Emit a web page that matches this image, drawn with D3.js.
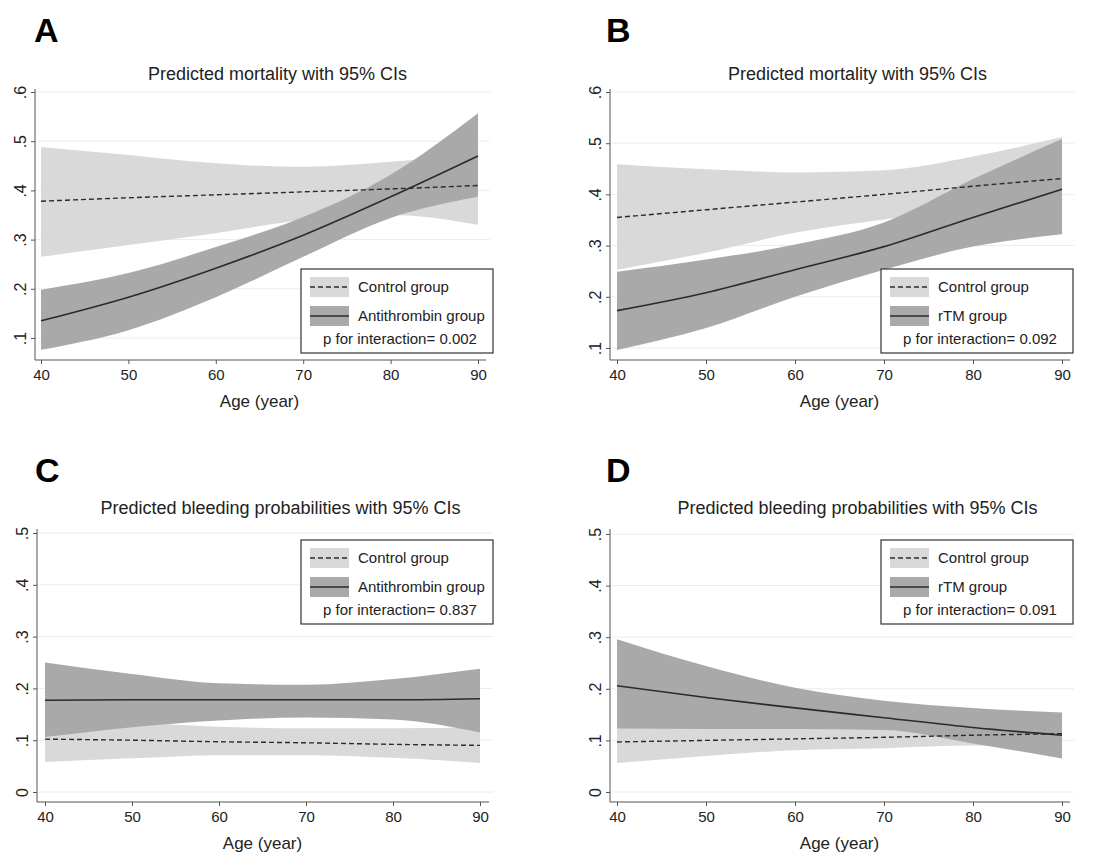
<!DOCTYPE html>
<html>
<head>
<meta charset="utf-8">
<script src="https://cdn.jsdelivr.net/npm/d3@7"></script>
<style>
  body { margin: 0; background: #fff; }
  svg { font-family: "Liberation Sans", Arial, sans-serif; }
</style>
</head>
<body>
<div id="chart"></div>
<script>
// x values and tick labels
const ages = [40, 50, 60, 70, 80, 90];
const xTicks = [40, 50, 60, 70, 80, 90];
const yTicksMort = [0.1, 0.2, 0.3, 0.4, 0.5, 0.6];
const yTicksBleed = [0, 0.1, 0.2, 0.3, 0.4, 0.5];

const titleMort = "Predicted mortality with 95% CIs";
const titleBleed = "Predicted bleeding probabilities with 95% CIs";
const ctrlName = "Control group";

// A: mortality, antithrombin
const aCtrl   = [0.378, 0.385, 0.391, 0.397, 0.403, 0.410];
const aCtrlHi = [0.488, 0.472, 0.455, 0.448, 0.458, 0.475];
const aCtrlLo = [0.265, 0.289, 0.313, 0.340, 0.350, 0.330];
const aTrt    = [0.135, 0.183, 0.242, 0.309, 0.387, 0.470];
const aTrtHi  = [0.198, 0.232, 0.285, 0.346, 0.432, 0.557];
const aTrtLo  = [0.076, 0.116, 0.183, 0.265, 0.344, 0.387];

// B: mortality, rTM
const bCtrl   = [0.355, 0.370, 0.385, 0.400, 0.416, 0.431];
const bCtrlHi = [0.459, 0.449, 0.443, 0.447, 0.474, 0.512];
const bCtrlLo = [0.253, 0.286, 0.325, 0.351, 0.370, 0.375];
const bTrt    = [0.173, 0.208, 0.253, 0.298, 0.355, 0.410];
const bTrtHi  = [0.249, 0.273, 0.302, 0.345, 0.430, 0.508];
const bTrtLo  = [0.096, 0.139, 0.200, 0.253, 0.298, 0.322];

// C: bleeding, antithrombin
const cCtrl   = [0.102, 0.100, 0.097, 0.095, 0.092, 0.090];
const cCtrlHi = [0.150, 0.135, 0.126, 0.123, 0.123, 0.125];
const cCtrlLo = [0.058, 0.065, 0.071, 0.071, 0.066, 0.056];
const cTrt    = [0.177, 0.178, 0.178, 0.178, 0.178, 0.180];
const cTrtHi  = [0.250, 0.228, 0.210, 0.207, 0.218, 0.238];
const cTrtLo  = [0.106, 0.125, 0.138, 0.144, 0.140, 0.115];

// D: bleeding, rTM
const dCtrl   = [0.097, 0.100, 0.103, 0.106, 0.110, 0.113];
const dCtrlHi = [0.124, 0.124, 0.124, 0.124, 0.126, 0.130];
const dCtrlLo = [0.056, 0.070, 0.081, 0.085, 0.090, 0.085];
const dTrt    = [0.206, 0.183, 0.163, 0.144, 0.125, 0.110];
const dTrtHi  = [0.296, 0.244, 0.202, 0.177, 0.163, 0.154];
const dTrtLo  = [0.123, 0.122, 0.122, 0.120, 0.094, 0.065];

const panels = [
  { letter: "A", title: titleMort, trtName: "Antithrombin group", p: "0.002",
    ctrl: aCtrl, ctrlHi: aCtrlHi, ctrlLo: aCtrlLo, trt: aTrt, trtHi: aTrtHi, trtLo: aTrtLo,
    yTicks: yTicksMort, yDomain: [0.1, 0.6], yRange: [338, 92],
    axisX: 35, axisY: 360, top: 89, xRange: [41, 478], right: 486,
    letterX: 34, letterY: 42, titleY: 80, legX: 301, legY: 269 },
  { letter: "B", title: titleMort, trtName: "rTM group", p: "0.092",
    ctrl: bCtrl, ctrlHi: bCtrlHi, ctrlLo: bCtrlLo, trt: bTrt, trtHi: bTrtHi, trtLo: bTrtLo,
    yTicks: yTicksMort, yDomain: [0.1, 0.6], yRange: [348, 92],
    axisX: 610, axisY: 360, top: 89, xRange: [617, 1062], right: 1070,
    letterX: 606, letterY: 42, titleY: 80, legX: 881, legY: 269 },
  { letter: "C", title: titleBleed, trtName: "Antithrombin group", p: "0.837",
    ctrl: cCtrl, ctrlHi: cCtrlHi, ctrlLo: cCtrlLo, trt: cTrt, trtHi: cTrtHi, trtLo: cTrtLo,
    yTicks: yTicksBleed, yDomain: [0, 0.5], yRange: [792, 533],
    axisX: 37, axisY: 802, top: 529, xRange: [45, 480], right: 489,
    letterX: 35, letterY: 482, titleY: 514, legX: 301, legY: 540 },
  { letter: "D", title: titleBleed, trtName: "rTM group", p: "0.091",
    ctrl: dCtrl, ctrlHi: dCtrlHi, ctrlLo: dCtrlLo, trt: dTrt, trtHi: dTrtHi, trtLo: dTrtLo,
    yTicks: yTicksBleed, yDomain: [0, 0.5], yRange: [792, 534],
    axisX: 610, axisY: 802, top: 529, xRange: [617, 1062], right: 1070,
    letterX: 606, letterY: 482, titleY: 514, legX: 881, legY: 540 }
];

const lightFill = "#d9d9d9";
const darkFill = "#a9a9a9";
const lineCol = "#2b2b2b";
const axisCol = "#555";
const textCol = "#222";

const svg = d3.select("#chart")
              .append("svg")
              .attr("width", 1110)
              .attr("height", 865);

panels.forEach(p => {
    const g = svg.append("g");

    const x = d3.scaleLinear().domain([40, 90]).range(p.xRange);
    const y = d3.scaleLinear().domain(p.yDomain).range(p.yRange);

    // gridlines
    g.selectAll(".grid")
     .data(p.yTicks)
     .join("line")
     .attr("x1", p.axisX)
     .attr("x2", p.right + 4)
     .attr("y1", d => y(d))
     .attr("y2", d => y(d))
     .attr("stroke", "#ececec")
     .attr("stroke-width", 1);

    const area = (lo, hi) => d3.area()
        .x((d, i) => x(ages[i]))
        .y0((d, i) => y(lo[i]))
        .y1((d, i) => y(hi[i]))
        .curve(d3.curveMonotoneX)(ages);

    const line = vals => d3.line()
        .x((d, i) => x(ages[i]))
        .y((d, i) => y(vals[i]))
        .curve(d3.curveMonotoneX)(ages);

    g.append("path").attr("d", area(p.ctrlLo, p.ctrlHi)).attr("fill", lightFill);
    g.append("path").attr("d", area(p.trtLo, p.trtHi)).attr("fill", darkFill);

    g.append("path").attr("d", line(p.ctrl))
     .attr("fill", "none").attr("stroke", lineCol).attr("stroke-width", 1.4)
     .attr("stroke-dasharray", "5,3");
    g.append("path").attr("d", line(p.trt))
     .attr("fill", "none").attr("stroke", lineCol).attr("stroke-width", 1.6);

    // axes
    const xAxis = d3.axisBottom(x).tickValues(xTicks).tickSize(4).tickPadding(5).tickSizeOuter(0);
    const xg = g.append("g")
                .attr("transform", `translate(0, ${p.axisY})`)
                .call(xAxis);
    xg.select(".domain").attr("d", `M${p.axisX - x.range()[0]},0H${p.right - x.range()[0]}`)
      .attr("transform", `translate(${x.range()[0]},0)`);
    xg.selectAll("line").attr("stroke", axisCol);
    xg.select(".domain").attr("stroke", axisCol);
    xg.selectAll("text").attr("font-size", 15).attr("fill", textCol).attr("font-family", null);

    const yAxis = d3.axisLeft(y).tickValues(p.yTicks).tickSize(4).tickSizeOuter(0)
                    .tickFormat(d => d === 0 ? "0" : d3.format(".1f")(d).replace(/^0/, ""));
    const yg = g.append("g")
                .attr("transform", `translate(${p.axisX}, 0)`)
                .call(yAxis);
    yg.select(".domain").attr("d", `M0,${p.top}V${p.axisY}`).attr("stroke", axisCol);
    yg.selectAll("line").attr("stroke", axisCol);
    yg.selectAll("text")
      .attr("x", null).attr("dy", null)
      .attr("text-anchor", "middle")
      .attr("transform", "translate(-9,0) rotate(-90)")
      .attr("font-size", 16).attr("fill", textCol).attr("font-family", null);

    // labels
    const cx = (p.xRange[0] + p.xRange[1]) / 2;
    g.append("text").attr("x", cx).attr("y", p.axisY + 47)
     .attr("text-anchor", "middle").attr("font-size", 17).attr("fill", textCol)
     .text("Age (year)");
    g.append("text").attr("x", cx + 18).attr("y", p.titleY)
     .attr("text-anchor", "middle").attr("font-size", 18).attr("fill", textCol)
     .text(p.title);
    g.append("text").attr("x", p.letterX).attr("y", p.letterY)
     .attr("font-size", 34).attr("font-weight", "bold").attr("fill", "#000")
     .text(p.letter);

    // legend
    const leg = g.append("g").attr("transform", `translate(${p.legX}, ${p.legY})`);
    leg.append("rect").attr("width", 192).attr("height", 84)
       .attr("fill", "#fff").attr("stroke", "#333").attr("stroke-width", 1.2);
    const rows = [
      { name: ctrlName, fill: lightFill, dash: "5,3", cy: 18 },
      { name: p.trtName, fill: darkFill, dash: null, cy: 47 }
    ];
    rows.forEach(r => {
        leg.append("rect").attr("x", 9).attr("y", r.cy - 10).attr("width", 39).attr("height", 20)
           .attr("fill", r.fill);
        leg.append("line").attr("x1", 9).attr("x2", 48).attr("y1", r.cy).attr("y2", r.cy)
           .attr("stroke", lineCol).attr("stroke-width", 1.5)
           .attr("stroke-dasharray", r.dash);
        leg.append("text").attr("x", 57).attr("y", r.cy + 5)
           .attr("font-size", 15).attr("fill", textCol).text(r.name);
    });
    leg.append("text").attr("x", 99).attr("y", 75)
       .attr("text-anchor", "middle").attr("font-size", 15).attr("fill", textCol)
       .text("p for interaction= " + p.p);
});
</script>
</body>
</html>
